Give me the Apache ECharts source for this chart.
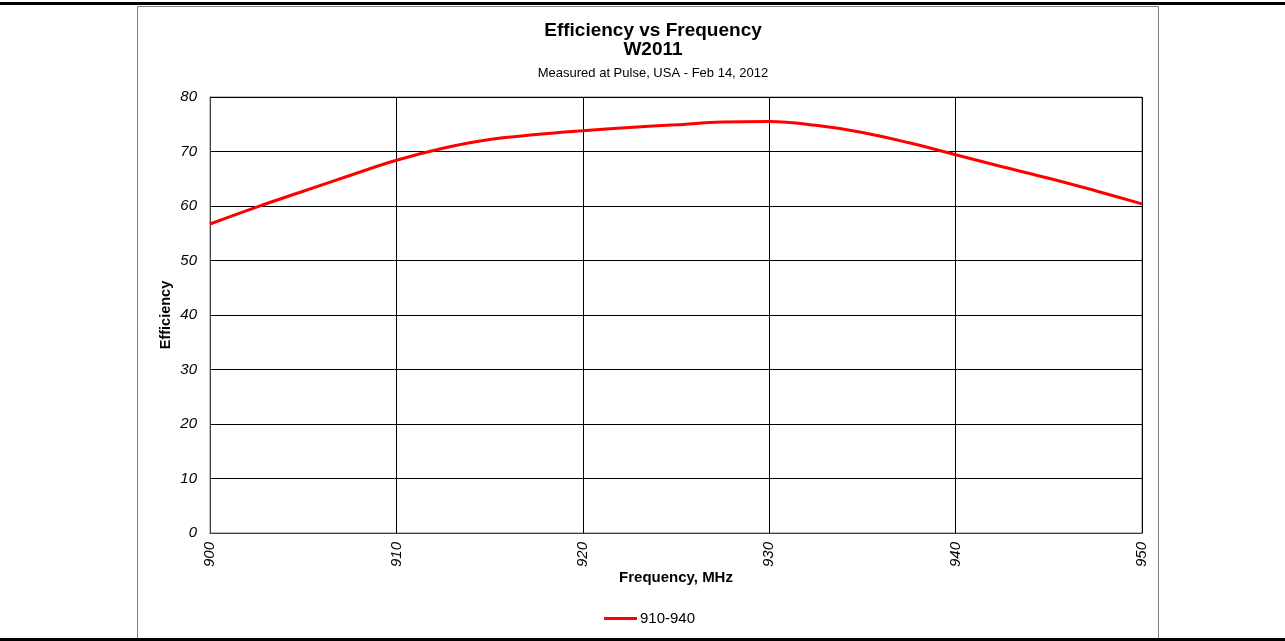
<!DOCTYPE html>
<html>
<head>
<meta charset="utf-8">
<script src="https://cdn.jsdelivr.net/npm/echarts@6/dist/echarts.min.js"></script>
<style>
html,body{margin:0;padding:0;background:#fff;}
#c{width:1285px;height:641px;}
</style>
</head>
<body>
<div id="c"></div>
<script>
const frequencies = [900, 902.5, 905, 907.5, 910, 912.5, 915, 917.5, 920, 922.5, 925, 927.5, 930, 932.5, 935, 937.5, 940, 942.5, 945, 947.5, 950];
const efficiency = [56.7, 59.8, 62.7, 65.6, 68.4, 70.6, 72.2, 73.1, 73.8, 74.4, 74.9, 75.4, 75.5, 74.8, 73.5, 71.6, 69.4, 67.2, 65.1, 62.8, 60.4];
const seriesName = '910-940';
const titleText = 'Efficiency vs Frequency';
const titleText2 = 'W2011';
const subtitleText = 'Measured at Pulse, USA - Feb 14, 2012';

const chart = echarts.init(document.getElementById('c'), null, {renderer: 'canvas'});
const font = 'Arial, "Liberation Sans", sans-serif';
const option = {
  animation: false,
  backgroundColor: '#fff',
  title: [
    {text: titleText + '\n' + titleText2, left: 648, top: 16, textAlign: 'center',
     textStyle: {fontFamily: font, fontSize: 19, fontWeight: 'bold', color: '#000', lineHeight: 19, align: 'center'}},
    {text: subtitleText, left: 648, top: 62, textAlign: 'center',
     textStyle: {fontFamily: font, fontSize: 13, fontWeight: 'normal', color: '#000'}}
  ],
  grid: {left: 210, right: 143, top: 97, bottom: 108, show: true, borderColor: '#808080', borderWidth: 1},
  legend: {
    bottom: 15, left: 604, padding: 0,
    itemWidth: 33, itemHeight: 10, itemGap: 4,
    icon: 'path://M0,3.5 L33,3.5 L33,6.5 L0,6.5 Z',
    textStyle: {fontFamily: font, fontSize: 15, color: '#000', padding: [0, 0, 0, -2]},
    data: [seriesName]
  },
  xAxis: {
    type: 'value', min: 900, max: 950, interval: 10,
    name: 'Frequency, MHz', nameLocation: 'middle', nameGap: 37, nameMoveOverlap: false,
    nameTextStyle: {fontFamily: font, fontSize: 15, fontWeight: 'bold', color: '#000'},
    axisLine: {show: true, lineStyle: {color: '#404040', width: 1}},
    axisTick: {show: false},
    axisLabel: {rotate: 90, margin: 9, fontFamily: font, fontSize: 15, fontStyle: 'italic', color: '#000'},
    splitLine: {show: true, lineStyle: {color: '#000', width: 1}}
  },
  yAxis: {
    type: 'value', min: 0, max: 80, interval: 10,
    name: 'Efficiency', nameLocation: 'middle', nameGap: 37, nameMoveOverlap: false,
    nameTextStyle: {fontFamily: font, fontSize: 14.5, fontWeight: 'bold', color: '#000'},
    axisLine: {show: true, lineStyle: {color: '#404040', width: 1}},
    axisTick: {show: false},
    axisLabel: {margin: 13, fontFamily: font, fontSize: 15, fontStyle: 'italic', color: '#000'},
    splitLine: {show: true, lineStyle: {color: '#000', width: 1}}
  },
  series: [{
    name: seriesName, type: 'line', smooth: 0.4, showSymbol: false,
    data: frequencies.map((f, i) => [f, efficiency[i]]),
    lineStyle: {color: '#ff0000', width: 3},
    itemStyle: {color: '#ff0000'}
  }],
  graphic: [
    {type: 'rect', shape: {x: 137.5, y: 6.5, width: 1021, height: 640}, style: {fill: 'none', stroke: '#808080', lineWidth: 1}, z: -1},
    {type: 'rect', shape: {x: 0, y: 2, width: 1285, height: 3}, style: {fill: '#000'}},
    {type: 'rect', shape: {x: 0, y: 638, width: 1285, height: 3}, style: {fill: '#000'}}
  ]
};
chart.setOption(option);
</script>
</body>
</html>
